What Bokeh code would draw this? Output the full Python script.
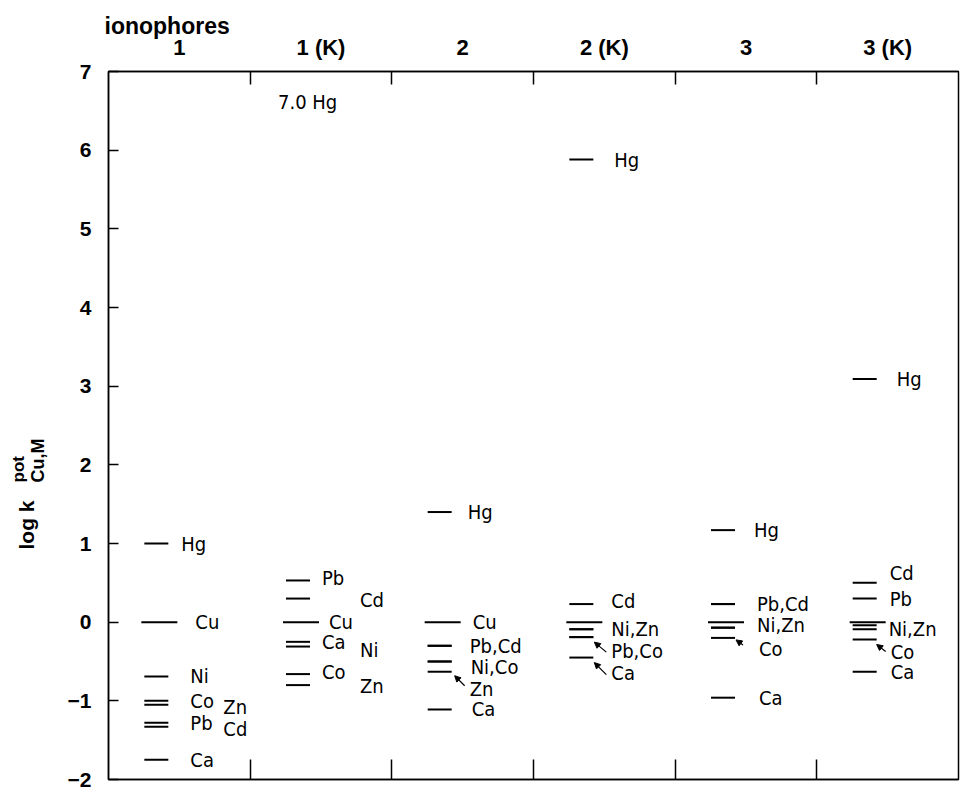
import math
from bokeh.plotting import figure
from bokeh.models import (Range1d, FixedTicker, LinearAxis, ColumnDataSource,
                          Label, Arrow, NormalHead)
from bokeh.core.properties import value
from bokeh.embed import file_html
from bokeh.resources import INLINE

# ---------------- data ----------------
columns = ["1", "1 (K)", "2", "2 (K)", "3", "3 (K)"]
y_ticks = [-2, -1, 0, 1, 2, 3, 4, 5, 6, 7]

col1_metals = ["Hg", "Cu", "Ni", "Co", "Zn", "Pb", "Cd", "Ca"]
col1_vals = [1.0, 0.0, -0.69, -1.0, -1.05, -1.28, -1.33, -1.75]

col1k_metals = ["Hg", "Pb", "Cd", "Cu", "Ca", "Ni", "Co", "Zn"]
col1k_vals = [7.0, 0.53, 0.30, 0.0, -0.25, -0.31, -0.66, -0.80]

col2_metals = ["Hg", "Cu", "Pb", "Cd", "Ni", "Co", "Zn", "Ca"]
col2_vals = [1.40, 0.0, -0.30, -0.30, -0.50, -0.50, -0.63, -1.11]

col2k_metals = ["Hg", "Cd", "Cu", "Ni", "Zn", "Pb", "Co", "Ca"]
col2k_vals = [5.88, 0.23, 0.0, -0.09, -0.09, -0.19, -0.19, -0.45]

col3_metals = ["Hg", "Pb", "Cd", "Cu", "Ni", "Zn", "Co", "Ca"]
col3_vals = [1.17, 0.23, 0.23, 0.0, -0.07, -0.07, -0.20, -0.96]

col3k_metals = ["Hg", "Cd", "Pb", "Cu", "Ni", "Zn", "Co", "Ca"]
col3k_vals = [3.09, 0.50, 0.30, 0.0, -0.04, -0.09, -0.22, -0.63]

all_metals = [col1_metals, col1k_metals, col2_metals, col2k_metals, col3_metals, col3k_metals]
all_vals = [col1_vals, col1k_vals, col2_vals, col2k_vals, col3_vals, col3k_vals]

# label texts and the metal each label refers to
label_texts = [
    ["Hg", "Cu", "Ni", "Co", "Zn", "Pb", "Cd", "Ca"],
    ["7.0 Hg", "Pb", "Cd", "Cu", "Ca", "Ni", "Co", "Zn"],
    ["Hg", "Cu", "Pb,Cd", "Ni,Co", "Zn", "Ca"],
    ["Hg", "Cd", "Ni,Zn", "Pb,Co", "Ca"],
    ["Hg", "Pb,Cd", "Ni,Zn", "Co", "Ca"],
    ["Hg", "Cd", "Pb", "Ni,Zn", "Co", "Ca"],
]
label_refs = [
    ["Hg", "Cu", "Ni", "Co", "Zn", "Pb", "Cd", "Ca"],
    ["Hg", "Pb", "Cd", "Cu", "Ca", "Ni", "Co", "Zn"],
    ["Hg", "Cu", "Pb", "Ni", "Zn", "Ca"],
    ["Hg", "Cd", "Ni", "Pb", "Ca"],
    ["Hg", "Pb", "Ni", "Co", "Ca"],
    ["Hg", "Cd", "Pb", "Zn", "Co", "Ca"],
]
# arrows (column index, metal the arrow points at)
arrow_cols = [2, 3, 3, 4, 5]
arrow_refs = ["Zn", "Pb", "Ca", "Co", "Co"]

# ---------------- layout (pixels) ----------------
label_dx = [
    [2, 16, 11, 11, 44, 11, 44, 11],
    [-43, 1, 39, 8, 1, 39, 1, 39],
    [5, 10, 7, 8, 7, 9],
    [10, 7, 7, 7, 7],
    [8, 11, 11, 13, 13],
    [9, 2, 2, 1, 3, 3],
]
label_dy = [
    [0, 0, 0, 0, 2, 0, 2, 0],
    [30, -2, 1, 0, 0, 3, -2, 1],
    [0, 0, 0, 5, 17, 0],
    [0, -3, 0, 14, 15],
    [0, 0, -3, 11, 0],
    [0, -10, 0, 0, 13, 0],
]
arrow_head = [(-8, 4), (-10, 5), (-10, 5), (-10, 2), (-11, 5)]
arrow_tail = [(2, 14), (2, 15), (2, 17), (-3, 7), (-2, 12)]

W, H = 960, 792
BL, BR, BT, BB = 108, 2, 71, 13
FW, FH = W - BL - BR, H - BT - BB
PXX = 6.0 / FW
PXY = 9.0 / FH

LABEL_FONT = value("'DejaVu Sans Condensed', 'Liberation Sans', sans-serif")
BOLD_FONT = "Liberation Sans"

p = figure(width=W, height=H, x_range=Range1d(0, 6), y_range=Range1d(-2, 7),
           x_axis_location="above", output_backend="svg", toolbar_location=None,
           min_border_left=BL, min_border_right=BR, min_border_top=BT,
           min_border_bottom=BB, background_fill_color="white",
           border_fill_color="white")
p.grid.visible = False
p.outline_line_color = "black"
p.outline_line_width = 1.5

p.title.text = "ionophores"
p.title.align = "left"
p.title.offset = -4
p.title.text_font = BOLD_FONT
p.title.text_font_style = "bold"
p.title.text_font_size = "23px"
p.title.text_color = "black"
p.title.standoff = -14

# top axis: column names, tick marks at boundaries
xa = p.xaxis[0]
xa.ticker = FixedTicker(ticks=[i + 0.5 for i in range(6)], minor_ticks=[1, 2, 3, 4, 5])
xa.major_label_overrides = {i + 0.5: columns[i] for i in range(6)}
xa.major_tick_line_color = None
xa.minor_tick_in = 13
xa.minor_tick_out = 0
xa.minor_tick_line_color = "black"
xa.minor_tick_line_width = 1.5
xa.axis_line_width = 1.5
xa.major_label_text_font = BOLD_FONT
xa.major_label_text_font_style = "bold"
xa.major_label_text_font_size = "22px"
xa.major_label_text_color = "black"
xa.major_label_standoff = 6

# left axis
ya = p.yaxis[0]
ya.ticker = FixedTicker(ticks=y_ticks, minor_ticks=[])
ya.major_tick_in = 10
ya.major_tick_out = 0
ya.major_tick_line_width = 1.5
ya.axis_line_width = 1.5
ya.major_label_text_font = BOLD_FONT
ya.major_label_text_font_style = "bold"
ya.major_label_text_font_size = "21px"
ya.major_label_text_color = "black"
ya.major_label_standoff = 17

# bottom axis: tick marks only
ba = LinearAxis(ticker=FixedTicker(ticks=[], minor_ticks=[1, 2, 3, 4, 5]))
ba.minor_tick_in = 20
ba.minor_tick_out = 0
ba.minor_tick_line_width = 1.5
ba.minor_tick_line_color = "black"
ba.major_tick_line_color = None
ba.axis_line_width = 1.5
ba.major_label_text_font_size = "0px"
ba.major_label_standoff = 0
p.add_layout(ba, "below")

# segments
sx0, sx1, sy = [], [], []
for i, (ms, vs) in enumerate(zip(all_metals, all_vals)):
    c = i + 0.5
    for m, v in zip(ms, vs):
        if v >= 7:
            continue
        if m == "Cu":
            a, b = -38, -2
        else:
            a, b = -35, -11
        sx0.append(c + a * PXX)
        sx1.append(c + b * PXX)
        sy.append(v)
p.segment(x0="x0", y0="y", x1="x1", y1="y",
          source=ColumnDataSource(dict(x0=sx0, x1=sx1, y=sy)),
          line_color="black", line_width=2)

# labels
lx, ly, lt, ldx, ldy = [], [], [], [], []
for i in range(6):
    lookup = dict(zip(all_metals[i], all_vals[i]))
    for t, r, dx, dy in zip(label_texts[i], label_refs[i], label_dx[i], label_dy[i]):
        lx.append(i + 0.5)
        ly.append(lookup[r])
        lt.append(t)
        ldx.append(dx)
        ldy.append(dy)
p.text(x="x", y="y", text="t", x_offset="dx", y_offset="dy",
       source=ColumnDataSource(dict(x=lx, y=ly, t=lt, dx=ldx, dy=ldy)),
       text_font=LABEL_FONT, text_font_size="20px", text_color="black",
       text_align="left", text_baseline="middle")

# arrows
ax0, ay0, ax1, ay1 = [], [], [], []
for ci, r, hd, tl in zip(arrow_cols, arrow_refs, arrow_head, arrow_tail):
    v = dict(zip(all_metals[ci], all_vals[ci]))[r]
    c = ci + 0.5
    ax0.append(c + tl[0] * PXX)
    ay0.append(v - tl[1] * PXY)
    ax1.append(c + hd[0] * PXX)
    ay1.append(v - hd[1] * PXY)
p.add_layout(Arrow(end=NormalHead(size=6, fill_color="black", line_color="black"),
                   x_start="x0", y_start="y0", x_end="x1", y_end="y1",
                   source=ColumnDataSource(dict(x0=ax0, y0=ay0, x1=ax1, y1=ay1)),
                   line_color="black", line_width=1.2))

# y-axis label: log k^pot_{Cu,M}  (canvas pixel positions, top-down, left side panel)
p.add_layout(Label(x=26, y=549, x_units="canvas", y_units="canvas",
                   text="log k", angle=math.pi / 2, text_font=BOLD_FONT,
                   text_font_style="bold", text_font_size="21px", text_color="black",
                   text_align="left", text_baseline="middle"), "left")
p.add_layout(Label(x=18, y=482, x_units="canvas", y_units="canvas",
                   text="pot", angle=math.pi / 2, text_font=BOLD_FONT,
                   text_font_style="bold", text_font_size="17px", text_color="black",
                   text_align="left", text_baseline="middle"), "left")
p.add_layout(Label(x=37, y=482, x_units="canvas", y_units="canvas",
                   text="Cu,M", angle=math.pi / 2, text_font=BOLD_FONT,
                   text_font_style="bold", text_font_size="18px", text_color="black",
                   text_align="left", text_baseline="middle"), "left")

open("out.html", "w").write(file_html(p, INLINE))
